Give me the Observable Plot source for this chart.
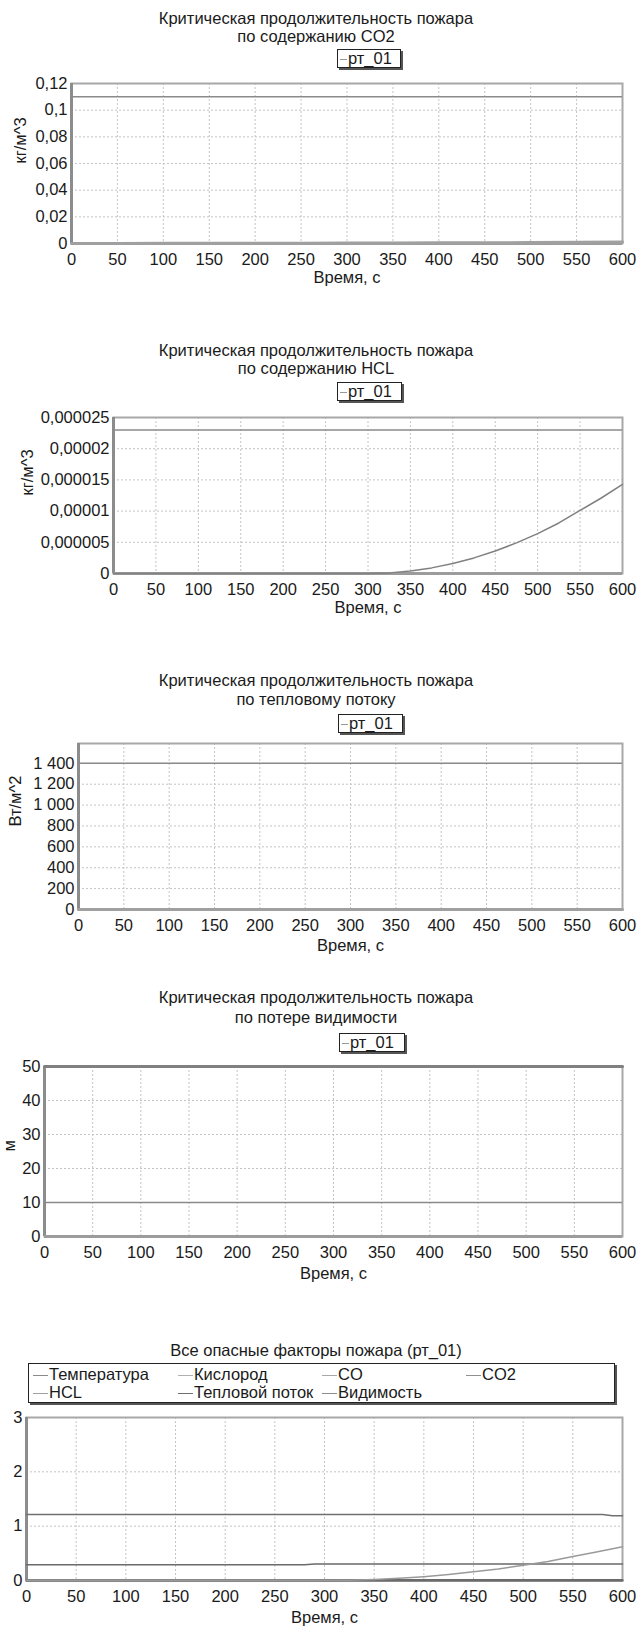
<!DOCTYPE html>
<html>
<head>
<meta charset="utf-8">
<script src="https://cdn.jsdelivr.net/npm/d3@7"></script>
<script src="https://cdn.jsdelivr.net/npm/@observablehq/plot@0.6"></script>
<style>
  html, body { margin: 0; padding: 0; background: #fff; }
  #page { position: relative; width: 639px; height: 1626px; overflow: hidden; background: #fff;
          font-family: "Liberation Sans", Arial, sans-serif; font-size: 16.5px; color: #1a1a1a; }
  .title { position: absolute; left: 0; width: 632px; text-align: center; }
  .legend { position: absolute; box-sizing: border-box; background: #fff; border: 1px solid #222;
            box-shadow: 2px 2px 0 #555; }
  .item { position: absolute; white-space: nowrap; line-height: 17px; }
  .sym { display: inline-block; vertical-align: middle; height: 0; border-top: 1.5px solid #999; margin-right: 1px; }
  .chart { position: absolute; left: 0; }
</style>
</head>
<body>
<div id="page"></div>
<script>
// ---------- data ----------
const time = [0, 50, 100, 150, 200, 250, 300, 350, 400, 450, 500, 550, 600];
const xTicks = [0, 50, 100, 150, 200, 250, 300, 350, 400, 450, 500, 550, 600];
const seriesName = "рт_01";
const titleLine1 = "Критическая продолжительность пожара";
const xTitle = "Время, с";

// Chart 1: CO2
const co2Values = [0, 0.00005, 0.0001, 0.00015, 0.0002, 0.00025, 0.0003, 0.0004, 0.0005, 0.0006, 0.0007, 0.0009, 0.0012];
const co2Critical = 0.11;
const co2Ticks = [0, 0.02, 0.04, 0.06, 0.08, 0.1, 0.12];
const co2TickLabels = ["0", "0,02", "0,04", "0,06", "0,08", "0,1", "0,12"];

// Chart 2: HCL
const hclTime = [0, 50, 100, 150, 200, 250, 300, 325, 350, 375, 400, 425, 450, 475, 500, 525, 550, 575, 600];
const hclValues = [0, 0, 0, 0, 0, 0, 0.00000002, 0.0000001, 0.0000004, 0.0000009, 0.0000016, 0.0000025, 0.0000036,
                   0.0000049, 0.0000064, 0.0000081, 0.0000101, 0.0000121, 0.0000143];
const hclCritical = 0.000023;
const hclTicks = [0, 0.000005, 0.00001, 0.000015, 0.00002, 0.000025];
const hclTickLabels = ["0", "0,000005", "0,00001", "0,000015", "0,00002", "0,000025"];

// Chart 3: heat flux
const heatValues = [0, 0, 0, 0, 0, 0, 0, 0, 0, 0, 0, 0, 0];
const heatCritical = 1400;
const heatTicks = [0, 200, 400, 600, 800, 1000, 1200, 1400];
const heatTickLabels = ["0", "200", "400", "600", "800", "1 000", "1 200", "1 400"];
const heatMax = 1590;

// Chart 4: visibility
const visValues = [50, 50, 50, 50, 50, 50, 50, 50, 50, 50, 50, 50, 50];
const visCritical = 10;
const visTicks = [0, 10, 20, 30, 40, 50];
const visTickLabels = ["0", "10", "20", "30", "40", "50"];

// Chart 5: all factors (relative)
const allNames = ["Температура", "Кислород", "CO", "CO2", "HCL", "Тепловой поток", "Видимость"];
const allColors = ["#8a8a8a", "#b0b0b0", "#a8a8a8", "#909090", "#a0a0a0", "#707070", "#8c8c8c"];
const tempTime = [0, 280, 290, 600];
const tempRel = [0.29, 0.29, 0.305, 0.305];
const oxTime = [0, 580, 590, 600];
const oxRel = [1.215, 1.215, 1.19, 1.19];
const coRel = [0, 0, 0, 0, 0, 0, 0, 0, 0, 0, 0, 0, 0];
const co2Rel = [0, 0, 0, 0, 0, 0, 0, 0.01, 0.01, 0.01, 0.01, 0.01, 0.01];
const hclRel = [0, 0, 0, 0, 0, 0, 0, 0.005, 0.02, 0.04, 0.07, 0.11, 0.16, 0.21, 0.28, 0.35, 0.44, 0.53, 0.62];
const heatRel = [0, 0, 0, 0, 0, 0, 0, 0, 0, 0, 0, 0, 0];
const visRel = [0, 0, 0, 0, 0, 0, 0, 0, 0, 0, 0, 0, 0];
const allTicks = [0, 1, 2, 3];
const allTickLabels = ["0", "1", "2", "3"];

// ---------- helpers ----------
const page = document.getElementById("page");
const FONT = "'Liberation Sans', Arial, sans-serif";
const zip = (xs, ys) => xs.map((x, i) => ({x, y: ys[i]}));

function addTitle(lines, top, lineHeight) {
  const d = document.createElement("div");
  d.className = "title";
  d.style.top = top + "px";
  d.style.lineHeight = lineHeight + "px";
  d.innerHTML = lines.join("<br>");
  page.appendChild(d);
}

function addLegend(box, items) {
  const d = document.createElement("div");
  d.className = "legend";
  Object.assign(d.style, {left: box.left + "px", top: box.top + "px", width: box.w + "px", height: box.h + "px"});
  for (const it of items) {
    const s = document.createElement("div");
    s.className = "item";
    s.style.left = it.x + "px";
    s.style.top = it.y + "px";
    s.innerHTML = `<span class="sym" style="width:${it.sw}px;border-top-color:${it.color}"></span>${it.label}`;
    d.appendChild(s);
  }
  page.appendChild(d);
}

function addChart(cfg) {
  const labelMap = new Map(cfg.yTicks.map((t, i) => [t, cfg.yLabels[i]]));
  const y0 = cfg.yDomain[0];
  const svg = Plot.plot({
    width: 639,
    height: cfg.height,
    marginLeft: cfg.mL, marginRight: cfg.mR, marginTop: cfg.mT, marginBottom: cfg.mB,
    style: {fontFamily: FONT, fontSize: "16.5px", color: "#1a1a1a", background: "transparent", overflow: "visible"},
    x: {domain: [0, 600], ticks: xTicks, tickFormat: d => String(d), tickSize: 0, tickPadding: 10, label: null},
    y: {domain: cfg.yDomain, ticks: cfg.yTicks, tickFormat: d => labelMap.get(d), tickSize: 0, tickPadding: 4, label: null},
    marks: [
      Plot.ruleX(xTicks, {stroke: "#c4c4c4", strokeDasharray: "2,2", strokeWidth: 1}),
      Plot.ruleY(cfg.yTicks, {stroke: "#c4c4c4", strokeDasharray: "2,2", strokeWidth: 1}),
      Plot.frame({stroke: "#a8a8a8", strokeWidth: 2}),
      Plot.ruleX([0], {stroke: "#8c8c8c", strokeWidth: 3}),
      Plot.ruleY([y0], {stroke: "#9c9c9c", strokeWidth: 3}),
      ...cfg.marks,
      Plot.text([xTitle], {frameAnchor: "bottom", dy: cfg.xTitleDy, lineAnchor: "middle", fill: "#1a1a1a"}),
      ...(cfg.yTitle ? [Plot.text([cfg.yTitle], {frameAnchor: "left", dx: cfg.yTitleDx, rotate: -90, fill: "#1a1a1a"})] : [])
    ]
  });
  const wrap = document.createElement("div");
  wrap.className = "chart";
  wrap.style.top = cfg.top + "px";
  wrap.appendChild(svg);
  page.appendChild(wrap);
}

const singleLegend = box => addLegend(box, [{x: 2, y: 0, sw: 7, color: "#999", label: seriesName}]);
const MR = 17; // common right margin (plot right edge at 622)

// ---------- Chart 1 ----------
addTitle([titleLine1, "по содержанию CO2"], 9, 18);
singleLegend({left: 337, top: 49, w: 64, h: 19});
addChart({
  top: 70, height: 220, mL: 71, mR: MR, mT: 13, mB: 47,
  yDomain: [0, 0.12], yTicks: co2Ticks, yLabels: co2TickLabels,
  yTitle: "кг/м^3", yTitleDx: -51, xTitleDy: 34,
  marks: [
    Plot.ruleY([co2Critical], {stroke: "#8a8a8a", strokeWidth: 1.5}),
    Plot.line(zip(time, co2Values), {x: "x", y: "y", stroke: "#a0a0a0", strokeWidth: 3})
  ]
});

// ---------- Chart 2 ----------
addTitle([titleLine1, "по содержанию HCL"], 341, 18);
singleLegend({left: 337, top: 382, w: 65, h: 19});
addChart({
  top: 404, height: 216, mL: 113, mR: MR, mT: 13, mB: 47,
  yDomain: [0, 0.000025], yTicks: hclTicks, yLabels: hclTickLabels,
  yTitle: "кг/м^3", yTitleDx: -86, xTitleDy: 34,
  marks: [
    Plot.ruleY([hclCritical], {stroke: "#8a8a8a", strokeWidth: 1.5}),
    Plot.line(zip(hclTime, hclValues), {x: "x", y: "y", stroke: "#808080", strokeWidth: 1.5})
  ]
});

// ---------- Chart 3 ----------
addTitle([titleLine1, "по тепловому потоку"], 671, 19);
singleLegend({left: 338, top: 714, w: 65, h: 19});
addChart({
  top: 730, height: 226, mL: 78, mR: MR, mT: 13, mB: 47,
  yDomain: [0, heatMax], yTicks: heatTicks, yLabels: heatTickLabels,
  yTitle: "Вт/м^2", yTitleDx: -63, xTitleDy: 36,
  marks: [
    Plot.ruleY([heatCritical], {stroke: "#8a8a8a", strokeWidth: 1.5}),
    Plot.line(zip(time, heatValues), {x: "x", y: "y", stroke: "#a0a0a0", strokeWidth: 3})
  ]
});

// ---------- Chart 4 ----------
addTitle([titleLine1, "по потере видимости"], 987, 20);
singleLegend({left: 339, top: 1033, w: 66, h: 19});
addChart({
  top: 1053, height: 230, mL: 44, mR: MR, mT: 13, mB: 47,
  yDomain: [0, 50], yTicks: visTicks, yLabels: visTickLabels,
  yTitle: "м", yTitleDx: -35, xTitleDy: 37,
  marks: [
    Plot.ruleY([visCritical], {stroke: "#8a8a8a", strokeWidth: 1.5}),
    Plot.line(zip(time, visValues), {x: "x", y: "y", stroke: "#808080", strokeWidth: 3})
  ]
});

// ---------- Chart 5 ----------
addTitle(["Все опасные факторы пожара (рт_01)"], 1341, 18);
const colX = [4, 149, 293, 437];
addLegend({left: 28, top: 1363, w: 587, h: 40},
  allNames.map((name, i) => ({x: colX[i % 4], y: i < 4 ? 2 : 20, sw: 15, color: allColors[i], label: name})));
addChart({
  top: 1404, height: 222, mL: 26, mR: MR, mT: 13, mB: 46,
  yDomain: [0, 3], yTicks: allTicks, yLabels: allTickLabels,
  yTitle: null, xTitleDy: 37,
  marks: [
    Plot.line(zip(time, coRel), {x: "x", y: "y", stroke: allColors[2], strokeWidth: 2}),
    Plot.line(zip(time, heatRel), {x: "x", y: "y", stroke: allColors[5], strokeWidth: 2}),
    Plot.line(zip(time, visRel), {x: "x", y: "y", stroke: allColors[6], strokeWidth: 2}),
    Plot.line(zip(time, co2Rel), {x: "x", y: "y", stroke: "#606060", strokeWidth: 1.5}),
    Plot.line(zip(tempTime, tempRel), {x: "x", y: "y", stroke: "#6a6a6a", strokeWidth: 1.5}),
    Plot.line(zip(oxTime, oxRel), {x: "x", y: "y", stroke: "#707070", strokeWidth: 1.5}),
    Plot.line(zip(hclTime, hclRel), {x: "x", y: "y", stroke: "#9a9a9a", strokeWidth: 1.5})
  ]
});
</script>
</body>
</html>
